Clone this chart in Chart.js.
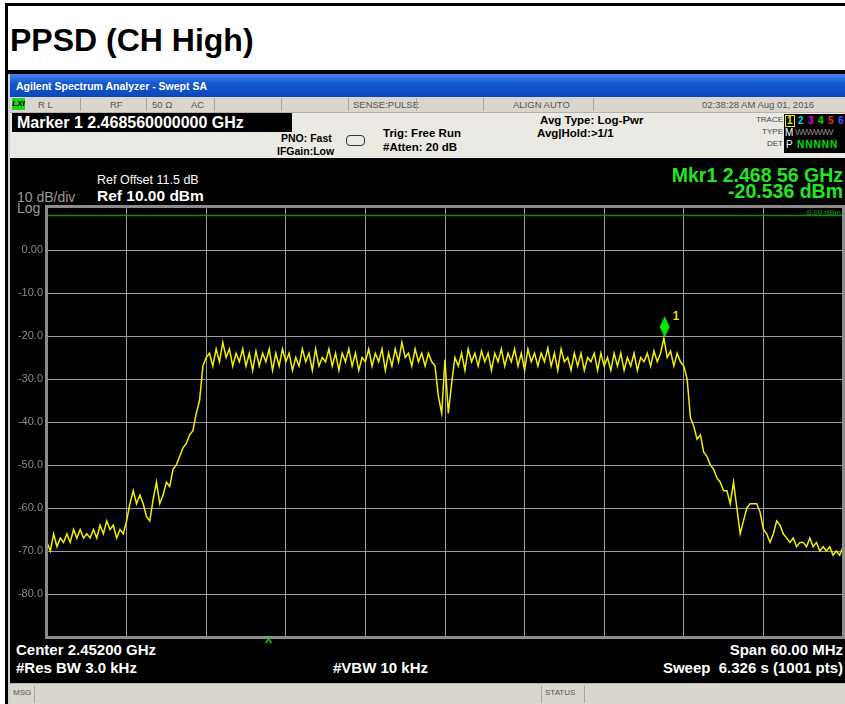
<!DOCTYPE html>
<html>
<head>
<meta charset="utf-8">
<script src="https://cdn.jsdelivr.net/npm/chart.js@4.4.1/dist/chart.umd.min.js"></script>
<style>
    body { margin: 0; width: 845px; height: 704px; background: #fff; position: relative; overflow: hidden; font-family: "Liberation Sans", Arial, sans-serif; }
    .abs { position: absolute; white-space: nowrap; line-height: 1; }
    #frame-left { left: 5px; top: 3px; width: 3px; height: 701px; background: #000; }
    #frame-top { left: 5px; top: 3px; width: 840px; height: 3px; background: #000; }
    #title-rule { left: 5px; top: 70px; width: 840px; height: 4px; background: #000; }
    #title { left: 10px; top: 24px; font-size: 32px; font-weight: bold; color: #000; }
    #edge { left: 8px; top: 74px; width: 2px; height: 630px; background: #cfcfcf; }
    #titlebar { left: 10px; top: 74px; width: 835px; height: 23px; background: linear-gradient(#4a86ea, #1458d0 40%, #0b47b8); }
    #titlebar span { position: absolute; left: 6px; top: 7px; color: #fff; font-size: 10.5px; font-weight: bold; }
    #status1 { left: 10px; top: 97px; width: 835px; height: 15px; background: #d9d6cf; border-bottom: 1px solid #b5b2ab; }
    .s1 { position: absolute; top: 3px; font-size: 9.5px; color: #555; }
    .sep { position: absolute; top: 1px; width: 1px; height: 13px; background: #a9a6a0; }
    #lxi { position: absolute; left: 2px; top: 1px; width: 13px; height: 12px; background: #22d022; font-size: 8px; font-weight: bold; color: #000; text-align: center; line-height: 12px; font-style: italic; }
    #status2 { left: 10px; top: 113px; width: 835px; height: 45px; background: #ebe9e3; }
    #markerbox { position: absolute; left: 2px; top: 0px; width: 280px; height: 19px; background: #000; }
    #markerbox span { position: absolute; left: 5px; top: 2px; font-size: 16px; font-weight: bold; color: #fff; }
    .s2 { position: absolute; font-size: 11.5px; font-weight: bold; color: #000; }
    .tiny { position: absolute; font-size: 8px; color: #444; text-align: right; width: 40px; }
    #tracebox { position: absolute; left: 774px; top: 1px; width: 61px; height: 39px; background: #000; }
    .tr { position: absolute; font-size: 10px; font-weight: bold; }
    #screen { left: 10px; top: 158px; width: 835px; height: 525px; background: #000; }
    #chart-wrap { left: 0; top: 158px; width: 845px; height: 522px; }
    .scr { position: absolute; white-space: nowrap; line-height: 1; color: #fff; }
    #status3 { left: 10px; top: 683px; width: 835px; height: 21px; background: #d9d6cf; border-top: 1px solid #b5b2ab; }
</style>
</head>
<body>
<div class="abs" id="frame-left"></div>
<div class="abs" id="frame-top"></div>
<div class="abs" id="title">PPSD (CH High)</div>
<div class="abs" id="title-rule"></div>
<div class="abs" id="edge"></div>

<div class="abs" id="titlebar"><span>Agilent Spectrum Analyzer - Swept SA</span></div>

<div class="abs" id="status1">
    <div id="lxi">LXI</div>
    <span class="s1" style="left:28px">R L</span>
    <div class="sep" style="left:70px"></div>
    <span class="s1" style="left:100px">RF</span>
    <div class="sep" style="left:136px"></div>
    <span class="s1" style="left:142px">50 Ω</span>
    <span class="s1" style="left:181px">AC</span>
    <div class="sep" style="left:204px"></div>
    <div class="sep" style="left:271px"></div>
    <div class="sep" style="left:338px"></div>
    <span class="s1" style="left:343px">SENSE:PULSE</span>
    <div class="sep" style="left:406px"></div>
    <div class="sep" style="left:473px"></div>
    <span class="s1" style="left:503px">ALIGN AUTO</span>
    <div class="sep" style="left:583px"></div>
    <span class="s1" style="left:692px">02:38:28 AM Aug 01, 2016</span>
</div>

<div class="abs" id="status2">
    <div id="markerbox"><span>Marker 1 2.468560000000 GHz</span></div>
    <span class="s2" style="left:271px;top:20px;font-size:10.5px">PNO: Fast</span>
    <span class="s2" style="left:267px;top:33px;font-size:10.5px">IFGain:Low</span>
    <div style="position:absolute;left:336px;top:22px;width:17px;height:9px;border:1px solid #333;border-radius:4px;"></div>
    <span class="s2" style="left:373px;top:15px">Trig: Free Run</span>
    <span class="s2" style="left:373px;top:29px">#Atten: 20 dB</span>
    <span class="s2" style="left:530px;top:2px">Avg Type: Log-Pwr</span>
    <span class="s2" style="left:527px;top:15px">Avg|Hold:&gt;1/1</span>
    <span class="tiny" style="left:733px;top:3px">TRACE</span>
    <span class="tiny" style="left:733px;top:15px">TYPE</span>
    <span class="tiny" style="left:733px;top:27px">DET</span>
    <div id="tracebox">
        <span class="tr" style="left:1px;top:1px;color:#e8e800;border:1px solid #e8e800;padding:0 1px">1</span>
        <span class="tr" style="left:14px;top:2px;color:#00d8e8">2</span>
        <span class="tr" style="left:24px;top:2px;color:#e000e0">3</span>
        <span class="tr" style="left:34px;top:2px;color:#00e000">4</span>
        <span class="tr" style="left:44px;top:2px;color:#f03030">5</span>
        <span class="tr" style="left:54px;top:2px;color:#5050ff">6</span>
        <span class="tr" style="left:1px;top:14px;color:#fff;font-weight:normal">M</span>
        <span class="tr" style="left:11px;top:14px;color:#888;font-weight:normal;font-size:9px;letter-spacing:-1px">WWWWW</span>
        <span class="tr" style="left:2px;top:26px;color:#fff;font-weight:normal">P</span>
        <span class="tr" style="left:13px;top:26px;color:#00e000;letter-spacing:1px">NNNNN</span>
    </div>
</div>

<div class="abs" id="screen">
    <span class="scr" style="left:87px;top:16px;font-size:12.5px">Ref Offset 11.5 dB</span>
    <span class="scr" style="left:87px;top:30px;font-size:15.5px;font-weight:bold">Ref 10.00 dBm</span>
    <span class="scr" style="left:7px;top:32px;font-size:14px;color:#9a9a9a">10 dB/div</span>
    <span class="scr" style="left:7px;top:43px;font-size:14px;color:#9a9a9a">Log</span>
    <span class="scr" style="right:2px;top:8px;font-size:19.5px;font-weight:bold;color:#22e622">Mkr1 2.468 56 GHz</span>
    <span class="scr" style="right:2px;top:24px;font-size:19.5px;font-weight:bold;color:#22e622">-20.536 dBm</span>
    <span class="scr" style="left:6px;top:484px;font-size:15px;font-weight:bold">Center 2.45200 GHz</span>
    <span class="scr" style="left:6px;top:502px;font-size:15px;font-weight:bold">#Res BW 3.0 kHz</span>
    <span class="scr" style="left:323px;top:502px;font-size:15px;font-weight:bold">#VBW 10 kHz</span>
    <span class="scr" style="right:2px;top:484px;font-size:15px;font-weight:bold">Span 60.00 MHz</span>
    <span class="scr" style="right:2px;top:502px;font-size:15px;font-weight:bold">Sweep&nbsp; 6.326 s (1001 pts)</span>
</div>

<div class="abs" id="chart-wrap"><canvas id="sa-chart" width="845" height="522"></canvas></div>

<div class="abs" id="status3">
    <span class="s1" style="left:3px;top:5px;font-size:8px">MSG</span>
    <div class="sep" style="left:24px;top:2px;height:17px"></div>
    <div class="sep" style="left:531px;top:2px;height:17px"></div>
    <span class="s1" style="left:535px;top:5px;font-size:8px">STATUS</span>
    <div class="sep" style="left:574px;top:2px;height:17px"></div>
</div>

<script>
// Sweep settings (frequency offset from start, MHz)
const SPAN_MHZ = 60;
const SWEEP_STEP_MHZ = 0.25;
const REF_LEVEL_DBM = 10;
const BOTTOM_LEVEL_DBM = -90;

// Trace levels (dBm), one per sweep step
const traceLevels = [
    -68, -70, -66, -69, -67, -68, -66, -68, -65, -67, -65, -67,
    -66, -67, -65, -67, -64, -66, -63, -65, -64, -67, -65, -66,
    -63, -59, -56, -59, -57, -59, -62, -63, -58, -54, -59, -57,
    -54, -55, -51, -50, -48, -46, -45, -43, -42, -38, -35, -27,
    -25,
    -24, -27, -23, -26, -21.5, -25, -23, -27, -24, -26, -23, -27,
    -24, -28, -23.5, -27, -24, -26, -23, -28, -24, -27, -23, -26,
    -24, -28, -25, -27, -23, -26, -24, -28, -23, -27, -25, -26,
    -23, -27, -24, -28, -24, -26, -23, -27, -24, -28, -25, -26,
    -23, -27, -24, -26, -23, -28, -24, -27, -23, -26, -21.5, -25,
    -24, -27, -23, -26, -24, -27, -24, -26, -27,
    -34, -38, -25.5, -38, -31, -25,
    -27, -24, -28, -23, -26, -24, -27, -23.5, -26, -24, -28, -24,
    -26, -23, -27, -24, -26, -23, -27, -24, -28, -23, -26, -24,
    -27, -24, -26, -22.8, -27, -24, -28, -23, -26, -25, -28, -24,
    -27, -24, -28, -25, -26, -24, -28, -24, -27, -25, -28, -24,
    -27, -24, -28, -25, -27, -24, -28, -25, -26, -24, -27, -23.5,
    -26, -24, -20.5, -25, -23.5, -27, -24, -26, -27,
    -30, -39, -41, -44, -43, -47, -48, -50, -51, -53, -54, -56,
    -56, -59, -54, -60, -66, -63, -60, -59, -59, -59, -61, -65,
    -66, -68, -66, -63, -64, -66, -67, -68, -67, -69, -68, -68,
    -69, -67, -69, -68, -70, -69, -70, -69, -71, -70, -71, -69
];

// Display line and markers
const displayLineDbm = 8;
const displayLineLabel = '8.00 dBm';
const markerFreqOffset = 46.56;   // 2.46856 GHz - 2.422 GHz
const markerLevel = -20.536;
const markerLabel = '1';
const caretFreqOffset = 16.7;

// Y tick labels
function yTickLabel(value) {
    if (value === REF_LEVEL_DBM || value === BOTTOM_LEVEL_DBM) return '';
    return value === 0 ? '0.00' : value.toFixed(1);
}

const tracePoints = traceLevels.map((v, i) => ({ x: i * SWEEP_STEP_MHZ, y: v }));

// Frame, display line label, marker and caret
const overlayPlugin = {
    id: 'saOverlay',
    afterDraw(chart) {
        const { ctx, chartArea, scales } = chart;
        const xs = scales.x;
        const ys = scales.y;
        ctx.save();

        ctx.strokeStyle = '#8c8c8c';
        ctx.lineWidth = 3;
        ctx.strokeRect(chartArea.left - 0.5, chartArea.top - 0.5,
            chartArea.right - chartArea.left + 1, chartArea.bottom - chartArea.top + 1);

        ctx.fillStyle = '#1f9a1f';
        ctx.font = '8px "Liberation Sans", Arial';
        ctx.textAlign = 'right';
        ctx.textBaseline = 'bottom';
        ctx.fillText(displayLineLabel, chartArea.right - 2, ys.getPixelForValue(displayLineDbm) + 1);

        const mx = xs.getPixelForValue(markerFreqOffset);
        const my = ys.getPixelForValue(markerLevel);
        ctx.fillStyle = '#00e600';
        ctx.beginPath();
        ctx.moveTo(mx, my - 22);
        ctx.lineTo(mx + 5, my - 11.5);
        ctx.lineTo(mx, my - 1);
        ctx.lineTo(mx - 5, my - 11.5);
        ctx.closePath();
        ctx.fill();

        ctx.fillStyle = '#dce600';
        ctx.font = 'bold 12px "Liberation Sans", Arial';
        ctx.textAlign = 'left';
        ctx.textBaseline = 'top';
        ctx.fillText(markerLabel, mx + 8, my - 28);

        const cx = xs.getPixelForValue(caretFreqOffset);
        const cy = chartArea.bottom + 2;
        ctx.strokeStyle = '#00d000';
        ctx.lineWidth = 1.5;
        ctx.beginPath();
        ctx.moveTo(cx - 3, cy + 4);
        ctx.lineTo(cx, cy);
        ctx.lineTo(cx + 3, cy + 4);
        ctx.stroke();

        ctx.restore();
    }
};

const ctx = document.getElementById('sa-chart');
new Chart(ctx, {
    type: 'line',
    data: {
        datasets: [
            {
                data: tracePoints,
                borderColor: '#f0f000',
                borderWidth: 1.5,
                pointRadius: 0,
                tension: 0
            },
            {
                data: [{ x: 0, y: displayLineDbm }, { x: SPAN_MHZ, y: displayLineDbm }],
                borderColor: '#0d8f0d',
                borderWidth: 1.5,
                pointRadius: 0
            }
        ]
    },
    options: {
        responsive: false,
        animation: false,
        devicePixelRatio: 1,
        layout: { padding: { top: 49, right: 2, bottom: 43, left: 0 } },
        plugins: {
            legend: { display: false },
            tooltip: { enabled: false }
        },
        scales: {
            x: {
                type: 'linear',
                min: 0,
                max: SPAN_MHZ,
                ticks: { display: false, stepSize: 6 },
                grid: { color: '#9c9c9c', lineWidth: 1, drawTicks: false },
                border: { display: false },
                afterFit(scale) { scale.height = 0; }
            },
            y: {
                min: BOTTOM_LEVEL_DBM,
                max: REF_LEVEL_DBM,
                ticks: {
                    stepSize: 10,
                    color: '#8a8a8a',
                    padding: 4,
                    font: { family: '"Liberation Sans", Arial', size: 11 },
                    callback: yTickLabel
                },
                grid: { color: '#9c9c9c', lineWidth: 1, drawTicks: false },
                border: { display: false },
                afterFit(scale) { scale.width = 47; }
            }
        }
    },
    plugins: [overlayPlugin]
});
</script>
</body>
</html>
